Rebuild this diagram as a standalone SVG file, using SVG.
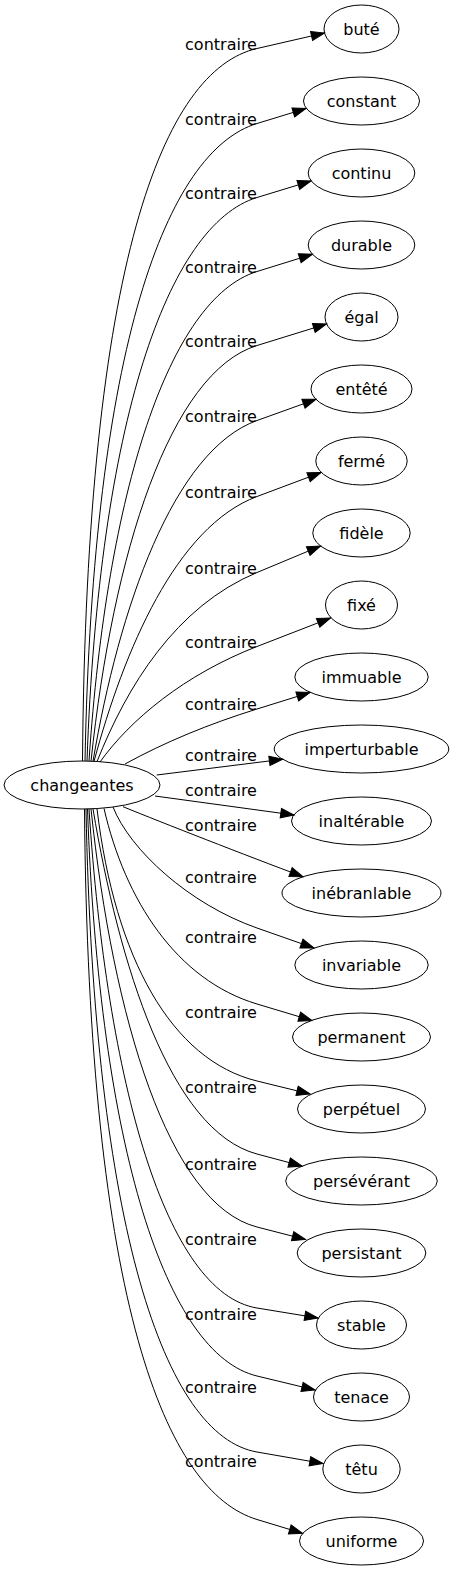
<svg xmlns="http://www.w3.org/2000/svg" width="454" height="1571" viewBox="0 0 454 1571">
<style>
.n ellipse{fill:none;stroke:#000;stroke-width:1}
text{font-family:"DejaVu Sans",sans-serif;font-size:16px;fill:#000;text-anchor:middle}
.e path{fill:none;stroke:#000;stroke-width:1;marker-end:url(#ah)}
</style>
<defs>
<marker id="ah" markerUnits="userSpaceOnUse" markerWidth="14" markerHeight="10" refX="13.3" refY="4.7" orient="auto" overflow="visible"><path d="M0,0 L13.3,4.7 L0,9.4 z" fill="#000" stroke="#000" stroke-width="1"/></marker>
</defs>
<rect width="454" height="1571" fill="#fff"/>
<g id="edges" class="e">
<path d="M82.5,761 C86.5,262.3 163.4,70 257,48.5 L324.5,33"/>
<path d="M85,761 C93,346.6 166.5,151.2 257,123.5 L306,108.5"/>
<path d="M87,761 C99,422.9 167.6,224.8 257,197.5 L311,181"/>
<path d="M89,761 C107,491.8 168.8,298.9 257,271.5 L312.4,254.3"/>
<path d="M91,761.2 C113,553.4 169.8,372.5 257,345.5 L326.5,324"/>
<path d="M93,761.3 C119,608 173.2,450.6 257,420.5 L316,399.3"/>
<path d="M94,761.4 C124,650.1 176.1,526.8 257,496.5 L321,472.5"/>
<path d="M97,761.6 C127,686 175.8,606.4 257,572.5 L320.5,546"/>
<path d="M100,762 C130,720 184.3,674.7 257,646.5 L330.5,618"/>
<path d="M125,764 C165,742 209.2,723.9 257,709 L310,692.5"/>
<path d="M156.7,775 L282.6,759.3"/>
<path d="M155,796 L294,815"/>
<path d="M123,806.7 C163,823 245,855 303,876.7"/>
<path d="M113,807 C130,850 189.1,904.2 257,928 L314,948"/>
<path d="M104,808.4 C125,900 176.5,979.9 257,1004 L312,1020.5"/>
<path d="M97,808.8 C115,958.4 171.6,1060.1 257,1081 L310,1094"/>
<path d="M93,808.9 C119,964.2 170.1,1130.8 257,1154 L302,1166"/>
<path d="M91,809 C113,1018 168.6,1204.2 257,1227 L305.5,1239.5"/>
<path d="M89,809 C107,1083.5 165.8,1293 257,1308 L318,1318"/>
<path d="M87.5,809 C99.5,1149.2 166.4,1354.1 257,1376 L315,1390"/>
<path d="M86,809 C94,1227 164.4,1435.9 257,1452 L323,1463.5"/>
<path d="M84.5,809 C88.5,1306.4 166.1,1491.9 257,1519.5 L302.5,1533.3"/>
</g>
<g id="labels">
<text x="221" y="50">contraire</text>
<text x="221" y="125">contraire</text>
<text x="221" y="199">contraire</text>
<text x="221" y="273">contraire</text>
<text x="221" y="347">contraire</text>
<text x="221" y="422">contraire</text>
<text x="221" y="498">contraire</text>
<text x="221" y="574">contraire</text>
<text x="221" y="648">contraire</text>
<text x="221" y="710">contraire</text>
<text x="221" y="760.7">contraire</text>
<text x="221" y="795.7">contraire</text>
<text x="221" y="831">contraire</text>
<text x="221" y="883">contraire</text>
<text x="221" y="943">contraire</text>
<text x="221" y="1018">contraire</text>
<text x="221" y="1093">contraire</text>
<text x="221" y="1170">contraire</text>
<text x="221" y="1245">contraire</text>
<text x="221" y="1320">contraire</text>
<text x="221" y="1393">contraire</text>
<text x="221" y="1467">contraire</text>
</g>
<g id="changeantes" class="n"><ellipse cx="82" cy="785" rx="78" ry="24"/><text x="82" y="790.5">changeantes</text></g>
<g id="bute" class="n"><ellipse cx="361.5" cy="29" rx="37.5" ry="24"/><text x="361.5" y="34.5">buté</text></g>
<g id="constant" class="n"><ellipse cx="361.5" cy="101" rx="58" ry="24"/><text x="361.5" y="106.5">constant</text></g>
<g id="continu" class="n"><ellipse cx="361.5" cy="173" rx="53.3" ry="24"/><text x="361.5" y="178.5">continu</text></g>
<g id="durable" class="n"><ellipse cx="361.5" cy="245" rx="53.3" ry="24"/><text x="361.5" y="250.5">durable</text></g>
<g id="egal" class="n"><ellipse cx="361.5" cy="317" rx="36.5" ry="24"/><text x="361.5" y="322.5">égal</text></g>
<g id="entete" class="n"><ellipse cx="361.5" cy="389" rx="50.5" ry="24"/><text x="361.5" y="394.5">entêté</text></g>
<g id="ferme" class="n"><ellipse cx="361.5" cy="461" rx="45.7" ry="24"/><text x="361.5" y="466.5">fermé</text></g>
<g id="fidele" class="n"><ellipse cx="361.5" cy="533" rx="48.7" ry="24"/><text x="361.5" y="538.5">fidèle</text></g>
<g id="fixe" class="n"><ellipse cx="361.5" cy="605" rx="36" ry="24"/><text x="361.5" y="610.5">fixé</text></g>
<g id="immuable" class="n"><ellipse cx="361.5" cy="677" rx="66.7" ry="24"/><text x="361.5" y="682.5">immuable</text></g>
<g id="imperturbable" class="n"><ellipse cx="361.5" cy="749" rx="87.3" ry="24"/><text x="361.5" y="754.5">imperturbable</text></g>
<g id="inalterable" class="n"><ellipse cx="361.5" cy="821" rx="70" ry="24"/><text x="361.5" y="826.5">inaltérable</text></g>
<g id="inebranlable" class="n"><ellipse cx="361.5" cy="893" rx="79.5" ry="24"/><text x="361.5" y="898.5">inébranlable</text></g>
<g id="invariable" class="n"><ellipse cx="361.5" cy="965" rx="66.7" ry="24"/><text x="361.5" y="970.5">invariable</text></g>
<g id="permanent" class="n"><ellipse cx="361.5" cy="1037" rx="69" ry="24"/><text x="361.5" y="1042.5">permanent</text></g>
<g id="perpetuel" class="n"><ellipse cx="361.5" cy="1109" rx="64" ry="24"/><text x="361.5" y="1114.5">perpétuel</text></g>
<g id="perseverant" class="n"><ellipse cx="361.5" cy="1181" rx="75.8" ry="24"/><text x="361.5" y="1186.5">persévérant</text></g>
<g id="persistant" class="n"><ellipse cx="361.5" cy="1253" rx="64.3" ry="24"/><text x="361.5" y="1258.5">persistant</text></g>
<g id="stable" class="n"><ellipse cx="361.5" cy="1325" rx="45" ry="24"/><text x="361.5" y="1330.5">stable</text></g>
<g id="tenace" class="n"><ellipse cx="361.5" cy="1397" rx="48" ry="24"/><text x="361.5" y="1402.5">tenace</text></g>
<g id="tetu" class="n"><ellipse cx="361.5" cy="1469" rx="38.7" ry="24"/><text x="361.5" y="1474.5">têtu</text></g>
<g id="uniforme" class="n"><ellipse cx="361.5" cy="1541" rx="62" ry="24"/><text x="361.5" y="1546.5">uniforme</text></g>
</svg>
